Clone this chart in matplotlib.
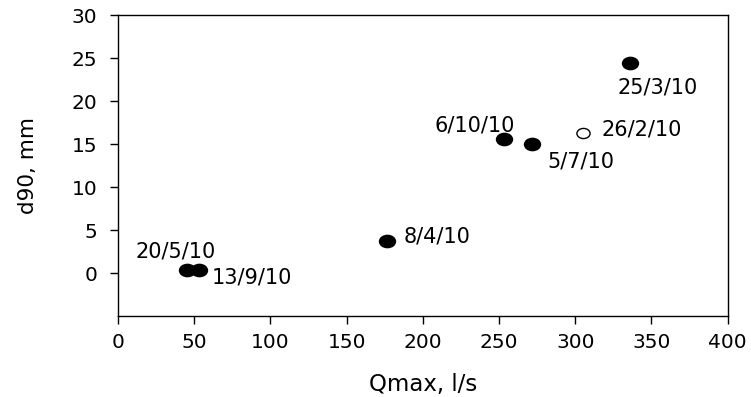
import matplotlib
matplotlib.use('Agg')
import matplotlib.pyplot as plt
from matplotlib.path import Path
from matplotlib.transforms import Affine2D

plt.rcParams['font.family'] = ['DejaVu Sans']

# peak discharge vs d90 for each event
dates = ['20/5/10', '13/9/10', '8/4/10', '6/10/10', '5/7/10', '26/2/10', '25/3/10']
qmax = [45, 53, 176.5, 253, 271.5, 305, 336]
d90 = [0.3, 0.3, 3.7, 15.6, 15.0, 16.3, 24.5]
filled = [True, True, True, True, True, False, True]
# label offsets (pixels) from each point
offsets = [(-51, 19), (13, -7), (17, 5), (-69, 14), (16, -17), (19, 3), (-13, -25)]

# slightly flattened dot
dot = Affine2D().scale(1.3, 1.0).transform_path(Path.unit_circle())

fig = plt.figure(figsize=(7.51, 3.97), dpi=100)
ax = fig.add_axes([0.157, 0.204, 0.812, 0.7575])

for x, y, f in zip(qmax, d90, filled):
    ax.plot(x, y, marker=dot, ms=11.5 if f else 9.5,
            mfc='black' if f else 'white', mec='black', mew=1, ls='none')

for x, y, lab, (dx, dy) in zip(qmax, d90, dates, offsets):
    ax.annotate(lab, (x, y), xytext=(dx, dy), textcoords='offset pixels',
                ha='left', va='center', fontsize=15)

ax.set_xlim(0, 400)
ax.set_ylim(-5, 30)
ax.set_xticks(range(0, 401, 50))
ax.set_yticks(range(0, 31, 5))
ax.tick_params(direction='out', length=6, width=1, labelsize=14.5)
ax.tick_params(axis='x', pad=6)
ax.tick_params(axis='y', pad=9)
for s in ax.spines.values():
    s.set_linewidth(1)

ax.set_xlabel('Qmax, l/s', fontsize=16.5, labelpad=15)
ax.set_ylabel('d90, mm', fontsize=15.5, labelpad=24)

plt.savefig('out.png', dpi=100)
